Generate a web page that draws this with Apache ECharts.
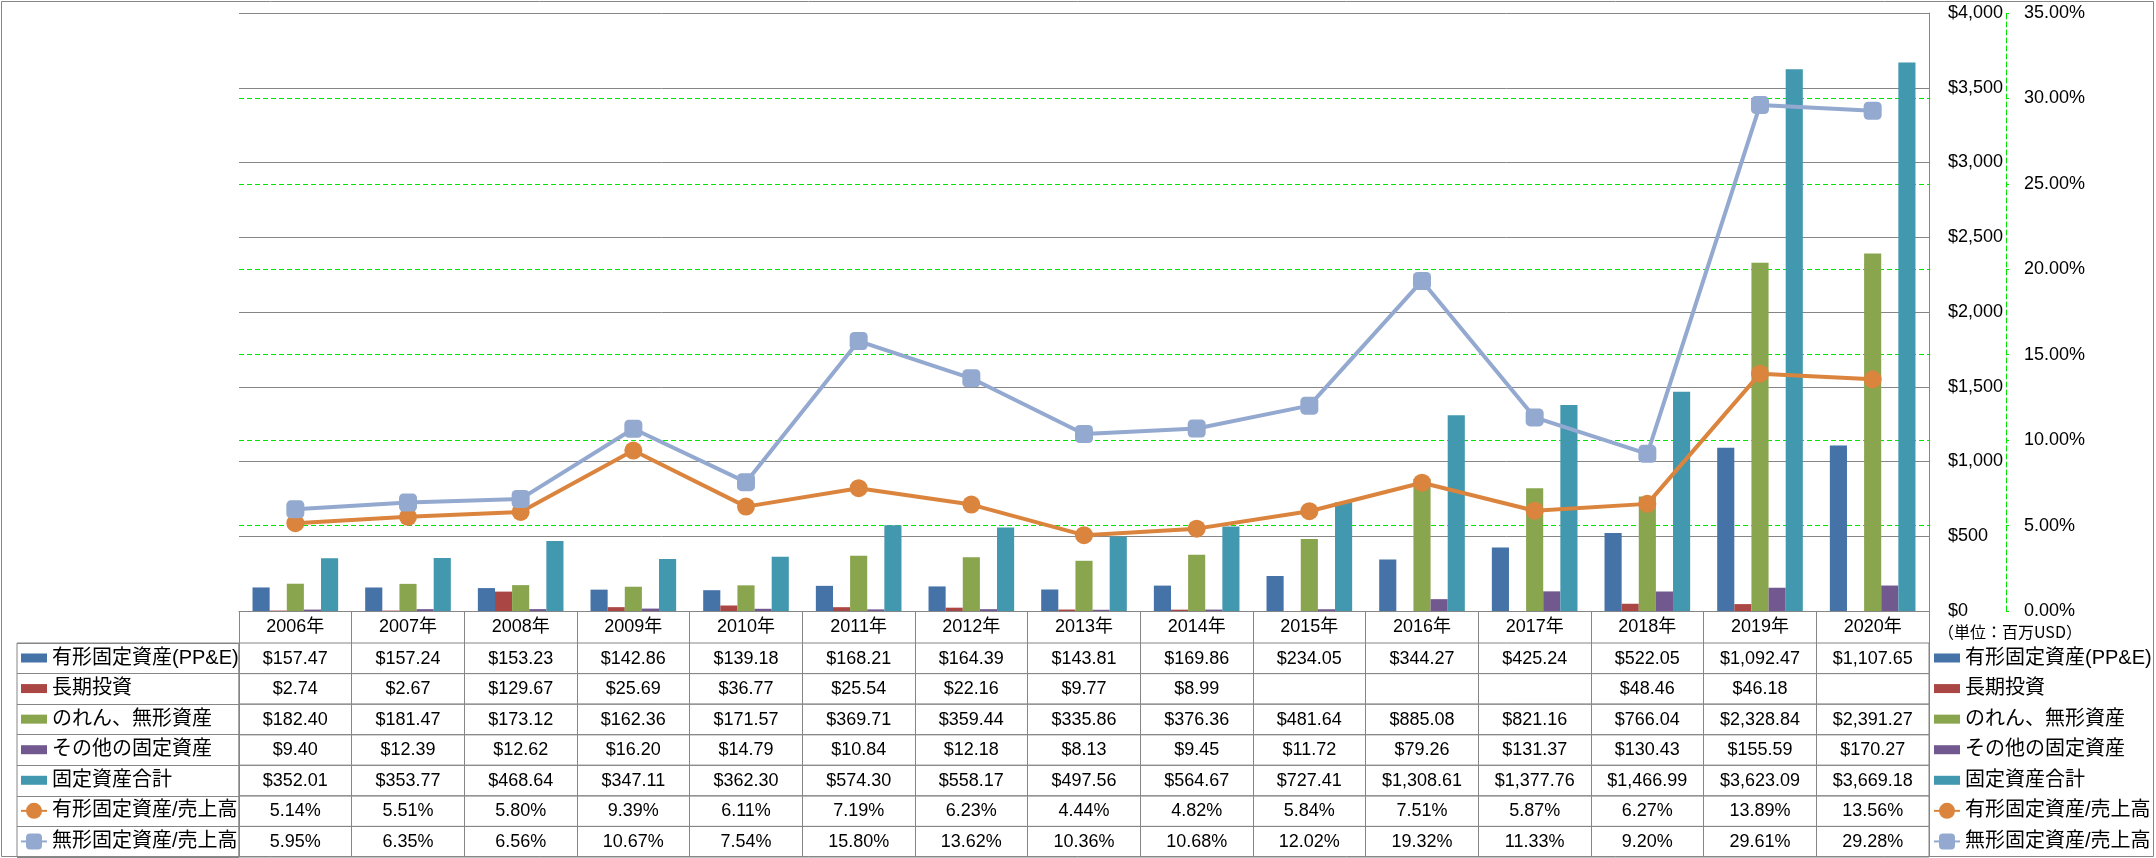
<!DOCTYPE html>
<html><head><meta charset="utf-8">
<script src="https://cdn.jsdelivr.net/npm/echarts@6/dist/echarts.min.js"></script>
<style>html,body{margin:0;padding:0;background:#fff}#c{width:2156px;height:858px}</style>
</head><body><div id="c"></div>
<script>
// ---- data ----
const years = ['2006年','2007年','2008年','2009年','2010年','2011年','2012年','2013年','2014年','2015年','2016年','2017年','2018年','2019年','2020年'];
const seriesNames = ['有形固定資産(PP&E)','長期投資','のれん、無形資産','その他の固定資産','固定資産合計','有形固定資産/売上高','無形固定資産/売上高'];
const ppe = [157.47,157.24,153.23,142.86,139.18,168.21,164.39,143.81,169.86,234.05,344.27,425.24,522.05,1092.47,1107.65];
const longInv = [2.74,2.67,129.67,25.69,36.77,25.54,22.16,9.77,8.99,null,null,null,48.46,46.18,null];
const goodwill = [182.40,181.47,173.12,162.36,171.57,369.71,359.44,335.86,376.36,481.64,885.08,821.16,766.04,2328.84,2391.27];
const otherFixed = [9.40,12.39,12.62,16.20,14.79,10.84,12.18,8.13,9.45,11.72,79.26,131.37,130.43,155.59,170.27];
const totalFixed = [352.01,353.77,468.64,347.11,362.30,574.30,558.17,497.56,564.67,727.41,1308.61,1377.76,1466.99,3623.09,3669.18];
const ppeRatio = [5.14,5.51,5.80,9.39,6.11,7.19,6.23,4.44,4.82,5.84,7.51,5.87,6.27,13.89,13.56];
const intRatio = [5.95,6.35,6.56,10.67,7.54,15.80,13.62,10.36,10.68,12.02,19.32,11.33,9.20,29.61,29.28];
const unitLabel = '（単位：百万USD）';

// ---- style ----
const FONT = "'Liberation Sans','Noto Sans CJK JP',sans-serif";
const GRAY = '#868686';
const GREEN = '#00e600';
const colors = ['#4572A7','#AA4643','#89A54E','#71588F','#4198AF','#DB843D','#93A9CF'];

const money = v => v == null ? '' : '$' + v.toLocaleString('en-US',{minimumFractionDigits:2,maximumFractionDigits:2});
const pct = v => v == null ? '' : v.toFixed(2) + '%';
const tableRows = [ppe.map(money), longInv.map(money), goodwill.map(money), otherFixed.map(money), totalFixed.map(money), ppeRatio.map(pct), intRatio.map(pct)];

const PLOT_L = 239, PLOT_W = 1690, PLOT_T = 13, PLOT_H = 598;
const TABLE_T = 643, ROW_H = 214 / 7;

const txt = {color:'#000', fontSize:18, lineHeight:18, fontFamily:FONT};

const grids = [{left:PLOT_L, width:PLOT_W, top:PLOT_T, height:PLOT_H, outerBoundsMode:'none', containLabel:false}];
const xAxes = [{
  type:'category', gridIndex:0, data:years,
  axisLine:{lineStyle:{color:GRAY,width:1}},
  axisTick:{show:true, length:32, interval:0, lineStyle:{color:GRAY}},
  axisLabel:Object.assign({margin:7, interval:0}, txt),
  splitLine:{show:false}
}];
const yAxes = [
  {type:'value', gridIndex:0, position:'right', min:0, max:4000, interval:500,
   axisLine:{show:true, lineStyle:{color:GRAY}}, axisTick:{show:false},
   axisLabel:Object.assign({margin:19, formatter:v => '$' + v.toLocaleString('en-US')}, txt),
   splitLine:{show:true, lineStyle:{color:GRAY, width:1}}},
  {type:'value', gridIndex:0, position:'right', offset:77, min:0, max:35, interval:5,
   axisLine:{show:true, lineStyle:{color:GREEN, type:[5,3]}},
   axisTick:{show:true, length:3, lineStyle:{color:GREEN}},
   axisLabel:Object.assign({margin:18, formatter:v => v.toFixed(2) + '%'}, txt),
   splitLine:{show:true, showMinLine:false, showMaxLine:false, lineStyle:{color:GREEN, type:[5,3], width:1}}}
];

// table rows: one grid per row, category axis labels are the cell texts
tableRows.forEach((row, i) => {
  const gi = grids.length;
  grids.push({left:PLOT_L, width:PLOT_W, top:TABLE_T + i*ROW_H, height:ROW_H, show:true, borderColor:GRAY, borderWidth:1, backgroundColor:'transparent', outerBoundsMode:'none'});
  xAxes.push({type:'category', gridIndex:gi, data:row, position:'bottom',
    axisLine:{show:false}, axisTick:{show:false},
    axisLabel:Object.assign({inside:true, margin:6, interval:0}, txt),
    splitLine:{show:true, interval:0, lineStyle:{color:GRAY}}});
  yAxes.push({type:'value', gridIndex:gi, show:false, min:0, max:1, splitLine:{show:false}});
});
// legend column of the table
{
  const gi = grids.length;
  grids.push({left:17, width:PLOT_L-17, top:TABLE_T, height:ROW_H*7, show:true, borderColor:GRAY, borderWidth:1, backgroundColor:'transparent', outerBoundsMode:'none'});
  xAxes.push({type:'value', gridIndex:gi, show:false, min:0, max:1, splitLine:{show:false}});
  yAxes.push({type:'category', gridIndex:gi, data:seriesNames, inverse:true,
    axisLine:{show:false}, axisTick:{show:false}, axisLabel:{show:false},
    splitLine:{show:true, interval:0, lineStyle:{color:GRAY}}});
}

const legendData = seriesNames.map((n, i) => i < 5 ? {name:n, icon:'path://M0,0H26V9H0Z'} : {name:n});
const legendBase = {orient:'vertical', top:648, padding:0, itemWidth:26, itemHeight:20, itemGap:ROW_H-20,
  symbolKeepAspect:true, selectedMode:false, data:legendData,
  textStyle:{color:'#000', fontSize:20, lineHeight:20, fontFamily:FONT}};

const series = [ppe, longInv, goodwill, otherFixed, totalFixed].map((d, i) => ({
  name:seriesNames[i], type:'bar', xAxisIndex:0, yAxisIndex:0, data:d,
  barGap:'0%', barCategoryGap:'24%', itemStyle:{color:colors[i]}
}));
[[ppeRatio,'circle'],[intRatio,'roundRect']].forEach(([d, sym], k) => {
  const i = 5 + k;
  series.push({name:seriesNames[i], type:'line', xAxisIndex:0, yAxisIndex:1, data:d,
    symbol:sym, symbolSize:18, showSymbol:true,
    lineStyle:{color:colors[i], width:4}, itemStyle:{color:colors[i]}, z:3});
});

const chart = echarts.init(document.getElementById('c'));
chart.setOption({
  animation:false,
  backgroundColor:'#fff',
  title:{text:unitLabel, left:1938, top:623, padding:0, textStyle:{fontSize:16, lineHeight:18, fontWeight:'normal', color:'#000', fontFamily:"'Noto Sans CJK JP',sans-serif"}},
  grid:grids, xAxis:xAxes, yAxis:yAxes,
  legend:[Object.assign({left:20}, legendBase), Object.assign({left:1933}, legendBase)],
  graphic:[{type:'rect', silent:true, z:-10, shape:{x:1.5, y:1.5, width:2152, height:855}, style:{fill:'none', stroke:GRAY, lineWidth:1}}],
  series:series
});
</script></body></html>
